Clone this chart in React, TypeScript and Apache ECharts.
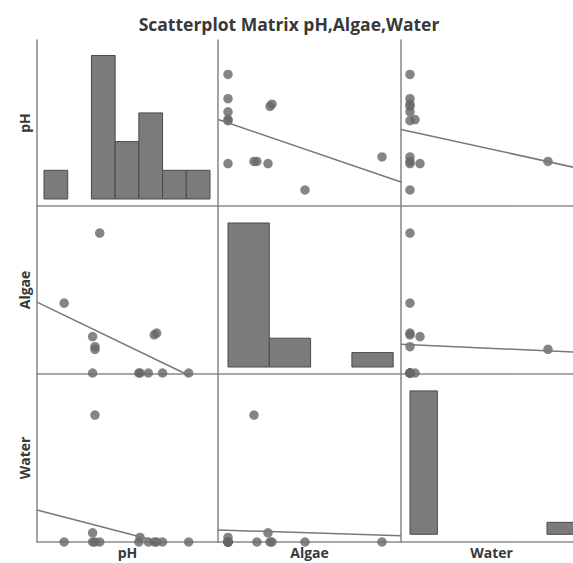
import React, { useEffect, useRef } from "react";
import * as echarts from "echarts";

// ---- Data ----
const VARIABLES = ["pH", "Algae", "Water"];

// one entry per observation (13 samples)
const phValues = [7.22, 7.0, 6.88, 6.8, 6.81, 6.95, 6.93, 6.41, 6.43, 6.43, 6.41, 6.47, 6.17];
const algaeValues = [0, 0, 0, 0, 0, 10.65, 10.17, 0, 6.3, 7.0, 9.69, 37.29, 18.64];
const waterValues = [0, 0, 0, 0, 0.91, 0, 0, 0, 25.18, 0, 1.82, 0, 0];

// histograms on the diagonal
const phBinEdges = [6.0, 6.2, 6.4, 6.6, 6.8, 7.0, 7.2, 7.4];
const phCounts = [1, 0, 5, 2, 3, 1, 1];
const algaeBinEdges = [0, 10, 20, 30, 40];
const algaeCounts = [10, 2, 0, 1];
const waterBinEdges = [0, 5, 10, 15, 20, 25, 30];
const waterCounts = [12, 0, 0, 0, 0, 1];

// fitted lines, endpoints [x, y] in data units (x = column variable, y = row variable)
const fitAlgaeVsPh = [[-2.35, 6.81], [42.06, 6.24]];   // row pH, col Algae
const fitWaterVsPh = [[-1.64, 6.72], [31.39, 6.36]];   // row pH, col Water
const fitPhVsAlgae = [[5.941, 18.9], [7.18, 0]];       // row Algae, col pH
const fitWaterVsAlgae = [[-1.64, 7.65], [31.39, 5.49]]; // row Algae, col Water
const fitPhVsWater = [[5.941, 6.35], [6.98, 0]];       // row Water, col pH
const fitAlgaeVsWater = [[-2.42, 2.38], [41.89, 1.25]]; // row Water, col Algae

// axis ranges (hidden axes)
const xRanges = [[5.941, 7.4675], [-2.421, 41.889], [-1.642, 31.387]];
const yRanges = [[6.0246, 7.533], [-0.266, 44.486], [0, 33.32]];
const countRanges = [[-0.244, 5.54], [-0.486, 11.18], [-0.644, 13.414]];

// ---- Layout ----
const COL_LEFT = [37, 218, 401];
const COL_WIDTH = [181, 183, 181];
const ROW_TOP = [40, 206, 374];
const ROW_HEIGHT = [166, 168, 168];

const AXIS_COLOR = "#8c8c8c";
const POINT_COLOR = "#666666";
const BAR_FILL = "#7b7b7e";
const BAR_STROKE = "#4a4a4a";
const FIT_COLOR = "#787878";
const TEXT_COLOR = "#383838";
const FONT = "Open Sans";

function buildOption() {
  const values = [phValues, algaeValues, waterValues];
  const bins = [
    { edges: phBinEdges, counts: phCounts },
    { edges: algaeBinEdges, counts: algaeCounts },
    { edges: waterBinEdges, counts: waterCounts },
  ];
  const fits: Record<string, number[][]> = {
    "0-1": fitAlgaeVsPh,
    "0-2": fitWaterVsPh,
    "1-0": fitPhVsAlgae,
    "1-2": fitWaterVsAlgae,
    "2-0": fitPhVsWater,
    "2-1": fitAlgaeVsWater,
  };

  const grid: any[] = [];
  const xAxis: any[] = [];
  const yAxis: any[] = [];
  const series: any[] = [];

  const axisCommon = {
    type: "value",
    axisLine: { show: true, onZero: false, lineStyle: { color: AXIS_COLOR, width: 1.6 } },
    axisTick: { show: false },
    axisLabel: { show: false },
    splitLine: { show: false },
    nameLocation: "middle",
    nameTextStyle: { fontFamily: FONT, fontWeight: "bold", fontSize: 14, color: TEXT_COLOR },
  };

  for (let r = 0; r < 3; r++) {
    for (let c = 0; c < 3; c++) {
      const idx = r * 3 + c;
      grid.push({
        left: COL_LEFT[c],
        top: ROW_TOP[r],
        width: COL_WIDTH[c],
        height: ROW_HEIGHT[r],
      });
      xAxis.push({
        ...axisCommon,
        gridIndex: idx,
        min: xRanges[c][0],
        max: xRanges[c][1],
        name: r === 2 ? VARIABLES[c] : "",
        nameGap: 3,
      });
      const yr = r === c ? countRanges[r] : yRanges[r];
      yAxis.push({
        ...axisCommon,
        gridIndex: idx,
        min: yr[0],
        max: yr[1],
        name: c === 0 ? VARIABLES[r] : "",
        nameGap: 6,
        nameRotate: 90,
      });

      if (r === c) {
        const { edges, counts } = bins[r];
        const data = counts
          .map((n, i) => [edges[i], edges[i + 1], n])
          .filter((d) => d[2] > 0);
        series.push({
          type: "custom",
          xAxisIndex: idx,
          yAxisIndex: idx,
          silent: true,
          encode: { x: [0, 1], y: 2 },
          data,
          renderItem: (params: any, api: any) => {
            const p0 = api.coord([api.value(0), 0]);
            const p1 = api.coord([api.value(1), api.value(2)]);
            return {
              type: "rect",
              shape: { x: p0[0], y: p1[1], width: p1[0] - p0[0], height: p0[1] - p1[1] },
              style: { fill: BAR_FILL, stroke: BAR_STROKE, lineWidth: 1 },
            };
          },
        });
      } else {
        const xs = values[c];
        const ys = values[r];
        series.push({
          type: "scatter",
          xAxisIndex: idx,
          yAxisIndex: idx,
          clip: false,
          silent: true,
          symbolSize: 9.5,
          itemStyle: { color: POINT_COLOR },
          data: xs.map((v, i) => [v, ys[i]]),
        });
        series.push({
          type: "line",
          xAxisIndex: idx,
          yAxisIndex: idx,
          silent: true,
          symbol: "none",
          clip: true,
          lineStyle: { color: FIT_COLOR, width: 1.5 },
          data: fits[`${r}-${c}`],
        });
      }
    }
  }

  return {
    animation: false,
    backgroundColor: "#ffffff",
    title: {
      text: "Scatterplot Matrix pH,Algae,Water",
      left: 284,
      top: 10,
      textAlign: "center",
      textStyle: { fontFamily: FONT, fontWeight: "bold", fontSize: 17.5, color: TEXT_COLOR },
    },
    grid,
    xAxis,
    yAxis,
    series,
  };
}

export default function App() {
  const ref = useRef<HTMLDivElement>(null);
  useEffect(() => {
    if (!ref.current) return;
    const chart = echarts.init(ref.current, null, { renderer: "svg" });
    chart.setOption(buildOption() as any);
    return () => chart.dispose();
  }, []);
  return (
    <div
      style={{
        position: "fixed",
        left: 0,
        top: 0,
        width: 573,
        height: 563,
        overflow: "hidden",
        background: "#fff",
      }}
    >
      <div ref={ref} style={{ width: 600, height: 563 }} />
    </div>
  );
}
